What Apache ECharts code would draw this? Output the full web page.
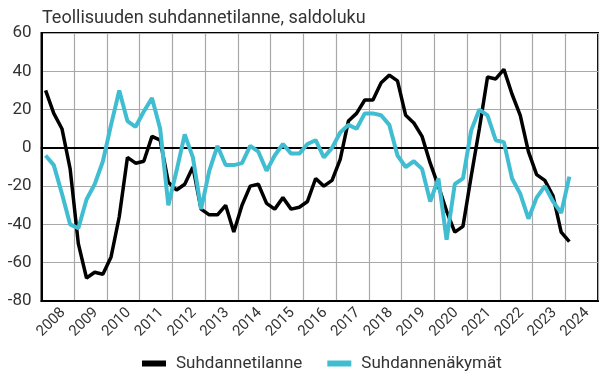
<!DOCTYPE html>
<html>
<head>
<meta charset="utf-8">
<script src="https://cdn.jsdelivr.net/npm/echarts@6/dist/echarts.min.js"></script>
<style>html,body{margin:0;padding:0;background:#fff}#c{width:605px;height:380px}</style>
</head>
<body>
<div id="c"></div>
<script>
var titleText = 'Teollisuuden suhdannetilanne, saldoluku';
var years = ['2008','2009','2010','2011','2012','2013','2014','2015','2016','2017','2018','2019','2020','2021','2022','2023','2024'];
var seriesNames = ['Suhdannetilanne', 'Suhdannenäkymät'];
var yTicks = { min: -80, max: 60, interval: 20 };
// quarterly values from 2008 Q1 to 2024 Q1
var tilanne = [30,18,10,-11, -50,-68,-65,-66, -57,-36,-5,-8, -7,6,4,-18, -22,-19,-10,-32,
  -35,-35,-30,-44, -30,-20,-19,-29, -32,-26,-32,-31, -28,-16,-20,-17, -6,14,18,25,
  25,34,38,35, 17,13,6,-8, -20,-33,-44,-41, -15,10,37,36, 41,28,17,-2, -14,-17,-25,-44, -49];
var nakymat = [-4,-9,-24,-40, -42,-27,-19,-7, 12,30,14,11, 19,26,10,-30, -12,7,-5,-32,
  -12,1,-9,-9, -8,1,-2,-12, -4,2,-3,-3, 2,4,-5,0, 8,12,10,18,
  18,17,12,-4, -10,-7,-11,-28, -16,-48,-19,-16, 9,20,17,4, 3,-16,-24,-37, -26,-20,-28,-34, -15];

var quarters = [];
years.forEach(function (y) { for (var q = 1; q <= 4; q++) quarters.push(y + 'Q' + q); });

var FONT = 'Roboto';
var chart = echarts.init(document.getElementById('c'), null, { renderer: 'canvas' });
chart.setOption({
  animation: false,
  backgroundColor: '#fff',
  textStyle: { fontFamily: FONT },
  title: {
    text: titleText, left: 37, top: 4,
    textStyle: { fontFamily: FONT, fontSize: 18, fontWeight: 'normal', color: '#333' }
  },
  legend: {
    data: seriesNames, left: 137, top: 350, icon: 'rect', itemWidth: 24, itemHeight: 6, itemGap: 25,
    textStyle: { fontFamily: FONT, fontSize: 17, color: '#333', padding: [0, 0, 0, 5] }
  },
  grid: { left: 41.5, right: 7, top: 33, bottom: 79, show: true, borderColor: '#000', borderWidth: 2, backgroundColor: 'transparent' },
  xAxis: [
    {
      type: 'category', data: years, boundaryGap: true, position: 'bottom',
      axisLine: { show: true, onZero: false, lineStyle: { color: '#000', width: 2 } },
      axisTick: { show: false },
      axisLabel: { interval: 0, rotate: 45, fontSize: 15, color: '#333', margin: 4, verticalAlign: 'top', fontFamily: FONT },
      splitLine: { show: true, interval: 0, lineStyle: { color: '#a8a8a8', width: 1.2 } }
    },
    {
      type: 'category', data: quarters, boundaryGap: true, position: 'bottom',
      axisLine: { show: true, onZero: true, lineStyle: { color: '#000', width: 2 } },
      axisTick: { show: false }, axisLabel: { show: false }, splitLine: { show: false }
    }
  ],
  yAxis: {
    type: 'value', min: yTicks.min, max: yTicks.max, interval: yTicks.interval,
    axisLine: { show: true, lineStyle: { color: '#000', width: 2 } },
    axisTick: { show: false },
    axisLabel: { fontSize: 17, color: '#333', margin: 10, fontFamily: FONT },
    splitLine: { show: true, lineStyle: { color: '#a8a8a8', width: 1.2 } }
  },
  series: [
    { name: seriesNames[0], type: 'line', xAxisIndex: 1, data: tilanne, symbol: 'none', smooth: false,
      lineStyle: { color: '#000', width: 3.5 }, itemStyle: { color: '#000' } },
    { name: seriesNames[1], type: 'line', xAxisIndex: 1, data: nakymat, symbol: 'none', smooth: false,
      lineStyle: { color: '#41bdd1', width: 4 }, itemStyle: { color: '#41bdd1' } }
  ]
});
</script>
</body>
</html>
